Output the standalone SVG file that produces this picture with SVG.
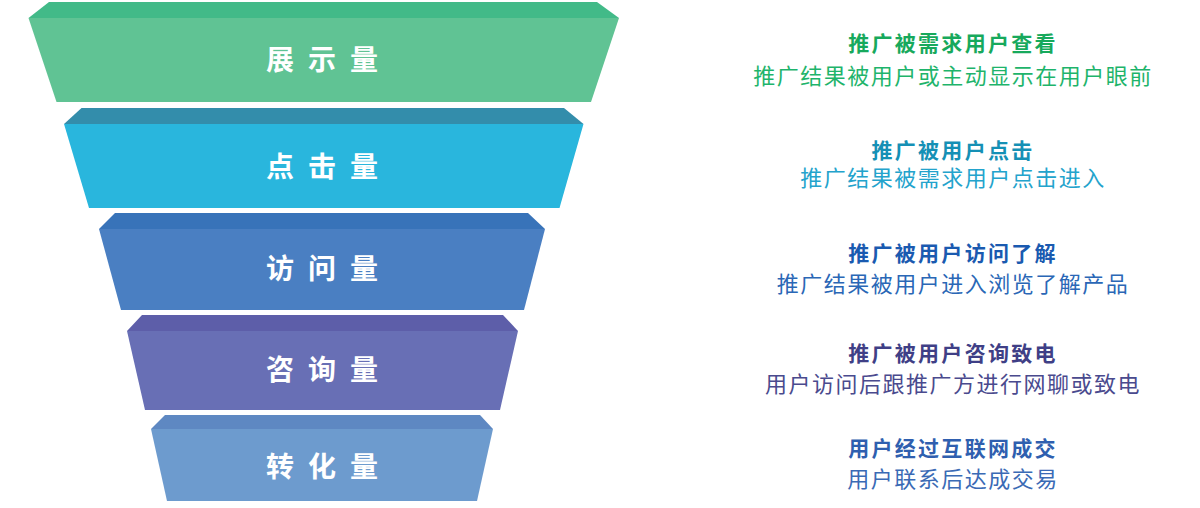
<svg xmlns="http://www.w3.org/2000/svg" width="1200" height="508" viewBox="0 0 1200 508">
<style>
.lbl{font-family:"Noto Sans CJK SC","Noto Sans",sans-serif;font-size:28px;font-weight:bold;fill:#ffffff;text-anchor:middle}
.t{font-family:"Noto Sans CJK SC","Noto Sans",sans-serif;font-size:21px;font-weight:bold;letter-spacing:2.3px;text-anchor:middle}
.s{font-family:"Noto Sans CJK SC","Noto Sans",sans-serif;font-size:22px;letter-spacing:1.5px;text-anchor:middle}
</style>
<rect width="1200" height="508" fill="#ffffff"/>
<g id="band1">
<polygon points="49,2 597,2 619,18 28.5,18" fill="#42BA88"/>
<polygon points="28.5,18 619,18 591,102 56.5,102" fill="#60C394"/>
<text class="lbl" y="70"><tspan x="280">展</tspan><tspan x="322">示</tspan><tspan x="364">量</tspan></text>
</g>
<g id="band2">
<polygon points="81.5,108 564,108 583.5,124 64,124" fill="#338DAB"/>
<polygon points="64,124 583.5,124 559.5,208 89,208" fill="#29B6DD"/>
<text class="lbl" y="177"><tspan x="280">点</tspan><tspan x="322">击</tspan><tspan x="364">量</tspan></text>
</g>
<g id="band3">
<polygon points="115,213 528,213 545,229 99,229" fill="#3873B9"/>
<polygon points="99,229 545,229 524,310 121,310" fill="#4A7FC2"/>
<text class="lbl" y="279"><tspan x="280">访</tspan><tspan x="322">问</tspan><tspan x="364">量</tspan></text>
</g>
<g id="band4">
<polygon points="142,315 503,315 518,331 127,331" fill="#5D5EA9"/>
<polygon points="127,331 518,331 500,410 145,410" fill="#686FB5"/>
<text class="lbl" y="380"><tspan x="280">咨</tspan><tspan x="322">询</tspan><tspan x="364">量</tspan></text>
</g>
<g id="band5">
<polygon points="165,415 480,415 493,429 151,429" fill="#5E88C2"/>
<polygon points="151,429 493,429 477,501 167,501" fill="#6D9BCE"/>
<text class="lbl" y="477"><tspan x="280">转</tspan><tspan x="322">化</tspan><tspan x="364">量</tspan></text>
</g>
<g id="desc1">
<text class="t" x="953" y="51" fill="#17A95C">推广被需求用户查看</text>
<text class="s" x="953" y="83.5" fill="#1EB46B">推广结果被用户或主动显示在用户眼前</text>
</g>
<g id="desc2">
<text class="t" x="953" y="158" fill="#1590B5">推广被用户点击</text>
<text class="s" x="953" y="185.5" fill="#23A3CC">推广结果被需求用户点击进入</text>
</g>
<g id="desc3">
<text class="t" x="953" y="261" fill="#1A5AB0">推广被用户访问了解</text>
<text class="s" x="953" y="291.5" fill="#2A67B6">推广结果被用户进入浏览了解产品</text>
</g>
<g id="desc4">
<text class="t" x="953" y="360.5" fill="#3F3F86">推广被用户咨询致电</text>
<text class="s" x="953" y="391.5" fill="#4A4A8E">用户访问后跟推广方进行网聊或致电</text>
</g>
<g id="desc5">
<text class="t" x="953" y="456" fill="#2F5FAF">用户经过互联网成交</text>
<text class="s" x="953" y="486.5" fill="#3A6AB5">用户联系后达成交易</text>
</g>
</svg>
